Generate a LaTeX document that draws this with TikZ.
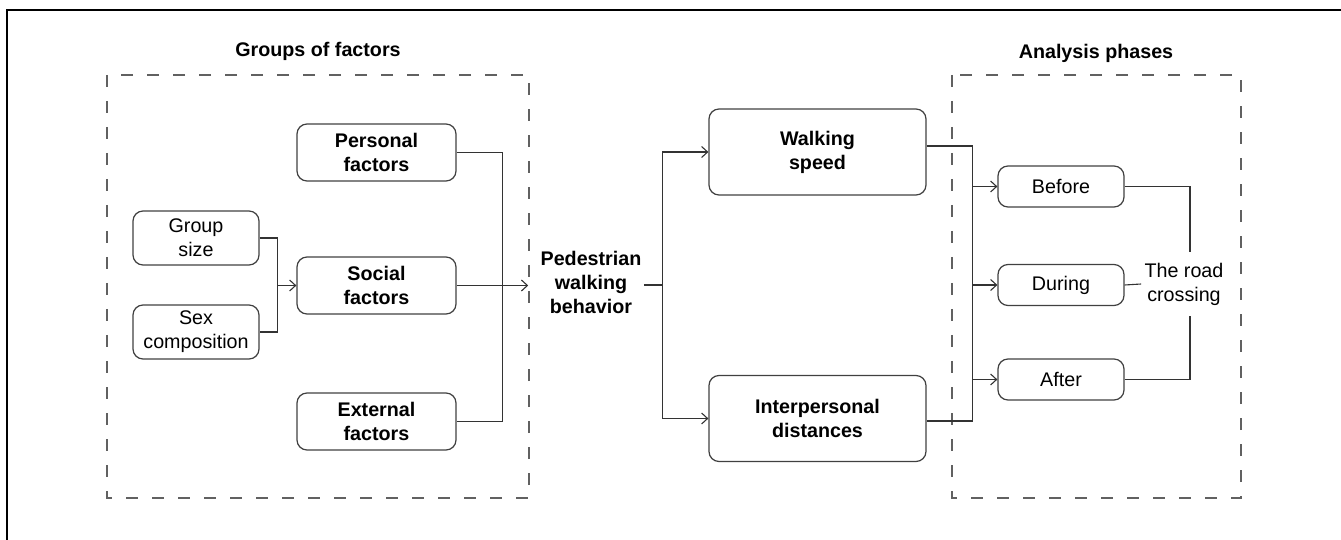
\documentclass[tikz,border=0pt]{standalone}
\usepackage{fontspec}
\setmainfont{Liberation Sans}
\usepackage{tikz}
\usetikzlibrary{arrows.meta,calc,positioning}

\begin{document}
\begin{tikzpicture}[
        %We work in pixel-like units, y pointing down
        x=0.5pt, y=-0.5pt,
        font=\fontsize{9.85}{12}\selectfont,
        >={Straight Barb[length=3pt,width=5.5pt]},
        frame line/.style={line width=1.3pt, black},
        dashed line/.style={dash pattern=on 6pt off 7pt, line width=0.7pt, color=black!62},
        conn/.style={line width=0.55pt, color=black!80},
        factor/.style={draw=black!75, line width=0.6pt, rounded corners=5pt, align=center,
            minimum width=79.5pt, minimum height=28.5pt, inner sep=1pt, font=\fontsize{9.85}{12}\selectfont\bfseries},
        subfactor/.style={factor, minimum width=63pt, minimum height=27pt, font=\fontsize{9.85}{12}\selectfont},
        outcome/.style={factor, minimum width=108.5pt, minimum height=43pt},
        phase/.style={subfactor, minimum height=20.5pt},
        heading/.style={font=\fontsize{9.85}{12}\selectfont\bfseries, align=center, inner sep=1.5pt}
    ]
    % Stub length of the joining lines
    \newcommand\stublen{23pt}

    \useasboundingbox (0,0) rectangle (1341,540);

    %Frame (only top and left are visible)
    \draw[frame line] (1345,10) -- (7,10) -- (7,545);

    % Dashed groups and their titles
    \draw[dashed line] (107,75) rectangle (529,498);
    \draw[dashed line] (952,75) rectangle (1241,498);
    \node[heading] (groupstitle) at (318,51) {Groups of factors};
    \node[heading] (phasestitle) at (1096,53) {Analysis phases};

    % Factors
    \node[factor] (personal) at (376.5,152.5) {Personal\\factors};
    \node[factor] (social) at (376.5,285.5) {Social\\factors};
    \node[factor] (external) at (376.5,421.5) {External\\factors};
    \node[subfactor] (gsize) at (196,238) {Group\\size};
    \node[subfactor] (sexcomp) at (196,332) {Sex\\composition};

    % Behaviour and its two measures
    \node[heading, inner sep=1pt] (ped) at (591,282) {Pedestrian\\walking\\behavior};
    \node[outcome] (walk) at (817.5,152) {Walking\\speed};
    \node[outcome] (inter) at (817.5,418.5) {Interpersonal\\distances};

    % Phases
    \node[phase] (before) at (1061,186.5) {Before};
    \node[phase] (during) at (1061,285) {During};
    \node[phase] (after) at (1061,379.5) {After};
    \node[align=center, inner xsep=1.5pt, inner ysep=5pt] (road) at (1184,284) {The road\\crossing};

    % Social subfactors
    \draw[conn] (gsize.east) -- ++(9pt,0) coordinate (gj) -- (gj |- sexcomp.east) -- (sexcomp.east);
    \draw[conn,->] (gj |- social.west) -- (social.west);

    % Factors into behaviour
    \draw[conn] (personal.east) -- ++(\stublen,0) coordinate (pj) -- (pj |- external.east) -- (external.east);
    \draw[conn,->,shorten >=5pt] (social.east) -- (ped.west |- social.east);

    % Behaviour into measures
    \draw[conn] (ped.east |- 0,285) -- ++(9.5pt,0) coordinate (bj);
    \draw[conn,<->] (walk.west) -| (bj) |- (inter.west);

    % Measures into phases
    \draw[conn] ([yshift=3pt]walk.east) -- ++(\stublen,0) coordinate (wj) |- ([yshift=-1.25pt]inter.east);
    \foreach \n in {before,during,after}
        \draw[conn,->] (wj |- \n.west) -- (\n.west);

    % Phases joined to the crossing
    \draw[conn] (before.east) -| ([xshift=3pt]road.north);
    \draw[conn] (after.east) -| ([xshift=3pt]road.south);
    \draw[conn] (during.east) -- (road.west);
\end{tikzpicture}
\end{document}
